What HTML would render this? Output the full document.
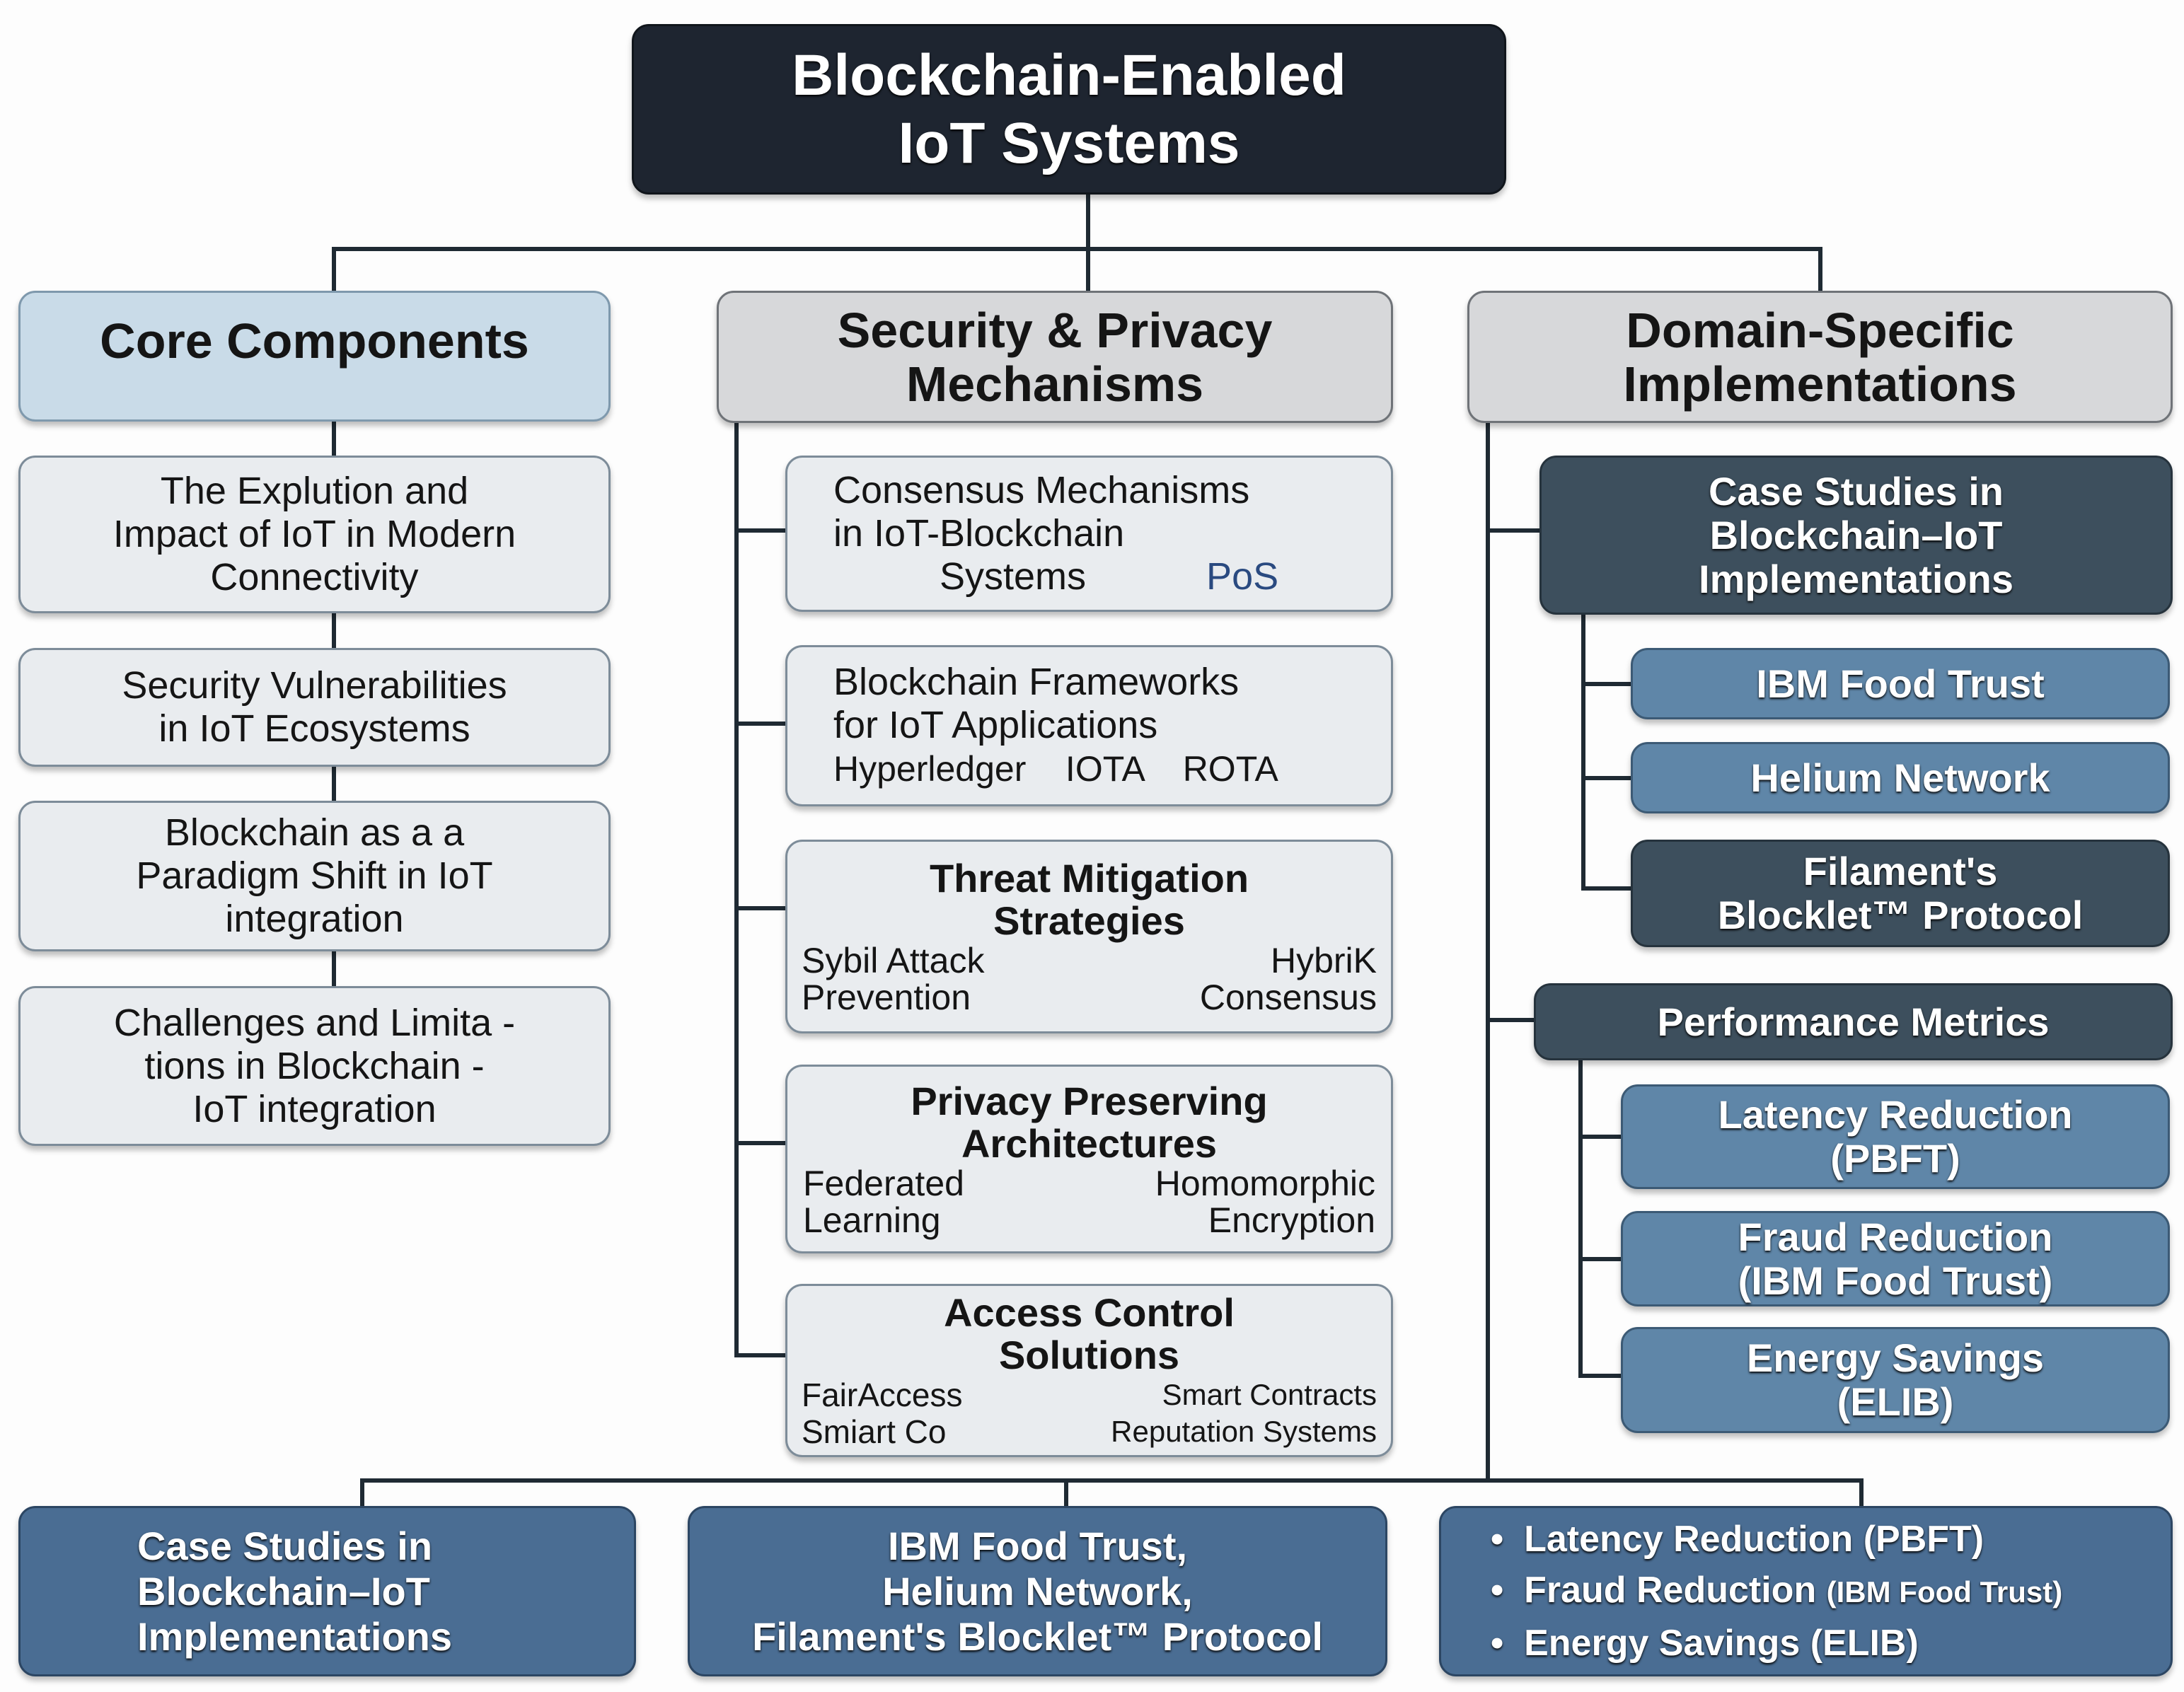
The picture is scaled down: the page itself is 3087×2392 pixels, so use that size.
<!DOCTYPE html>
<html><head><meta charset="utf-8">
<style>
body{margin:0;width:3087px;height:2392px;background:#fdfdfd;position:relative;overflow:hidden;font-family:"Liberation Sans",sans-serif;}
.b{position:absolute;box-sizing:border-box;border-radius:24px;border:3px solid #6f7f8c;display:flex;flex-direction:column;justify-content:center;text-align:center;box-shadow:0 6px 8px rgba(0,0,0,0.25);color:#151515;}
.l{position:absolute;background:#1f2a33;}
.lt{background:#e9ecef;border-color:#7d8c99;font-size:54px;line-height:61px;}
.h{font-size:70px;line-height:76px;font-weight:bold;}
.g{background:#d7d8da;border-color:#6f7378;}
.dk{background:#3d4f5d;border-color:#26333d;color:#fff;font-weight:bold;font-size:56px;line-height:62px;text-shadow:0 2px 3px #000;}
.md{background:#5f86a8;border-color:#3c5a75;color:#fff;font-weight:bold;font-size:56px;line-height:62px;text-shadow:0 2px 3px #000;}
.bt{background:#4a6d93;border-color:#2c4663;color:#fff;font-weight:bold;font-size:56px;line-height:64px;text-shadow:0 2px 3px #000;}
.row{display:flex;justify-content:space-between;font-size:48px;line-height:52px;padding:0 24px;}
.t{font-weight:bold;font-size:56px;line-height:60px;}
</style></head><body>
<div class="l" style="left:1535px;top:275px;width:6px;height:80px"></div>
<div class="l" style="left:469px;top:349px;width:2107px;height:6px"></div>
<div class="l" style="left:469px;top:349px;width:6px;height:64px"></div>
<div class="l" style="left:2570px;top:349px;width:6px;height:64px"></div>
<div class="l" style="left:1535px;top:349px;width:6px;height:64px"></div>
<div class="l" style="left:469px;top:596px;width:6px;height:1000px"></div>
<div class="l" style="left:1038px;top:598px;width:6px;height:1321px"></div>
<div class="l" style="left:1038px;top:747px;width:72px;height:6px"></div>
<div class="l" style="left:1038px;top:1020px;width:72px;height:6px"></div>
<div class="l" style="left:1038px;top:1281px;width:72px;height:6px"></div>
<div class="l" style="left:1038px;top:1613px;width:72px;height:6px"></div>
<div class="l" style="left:1038px;top:1913px;width:72px;height:6px"></div>
<div class="l" style="left:2100px;top:598px;width:6px;height:1498px"></div>
<div class="l" style="left:2100px;top:747px;width:76px;height:6px"></div>
<div class="l" style="left:2100px;top:1439px;width:70px;height:6px"></div>
<div class="l" style="left:2235px;top:869px;width:6px;height:390px"></div>
<div class="l" style="left:2235px;top:964px;width:70px;height:6px"></div>
<div class="l" style="left:2235px;top:1097px;width:70px;height:6px"></div>
<div class="l" style="left:2235px;top:1253px;width:70px;height:6px"></div>
<div class="l" style="left:2231px;top:1499px;width:6px;height:449px"></div>
<div class="l" style="left:2231px;top:1604px;width:60px;height:6px"></div>
<div class="l" style="left:2231px;top:1777px;width:60px;height:6px"></div>
<div class="l" style="left:2231px;top:1942px;width:60px;height:6px"></div>
<div class="l" style="left:509px;top:2090px;width:2125px;height:6px"></div>
<div class="l" style="left:509px;top:2090px;width:6px;height:42px"></div>
<div class="l" style="left:1504px;top:2090px;width:6px;height:42px"></div>
<div class="l" style="left:2628px;top:2090px;width:6px;height:42px"></div>

<div class="b" style="left:893px;top:34px;width:1236px;height:241px;background:#1e2530;border-color:#10151b;color:#fff;font-weight:bold;font-size:82px;line-height:96px;text-shadow:0 2px 3px #000"><div>Blockchain-Enabled<br>IoT Systems</div></div>

<div class="b h" style="left:26px;top:411px;width:837px;height:185px;background:#c9dbe8;border-color:#7f99ad;justify-content:flex-start;padding-top:30px"><div>Core Components</div></div>
<div class="b h g" style="left:1013px;top:411px;width:956px;height:187px"><div>Security &amp; Privacy<br>Mechanisms</div></div>
<div class="b h g" style="left:2074px;top:411px;width:997px;height:187px"><div>Domain-Specific<br>Implementations</div></div>

<div class="b lt" style="left:26px;top:644px;width:837px;height:223px"><div>The Explution and<br>Impact of IoT in Modern<br>Connectivity</div></div>
<div class="b lt" style="left:26px;top:916px;width:837px;height:168px"><div>Security Vulnerabilities<br>in IoT Ecosystems</div></div>
<div class="b lt" style="left:26px;top:1132px;width:837px;height:213px"><div>Blockchain as a a<br>Paradigm Shift in IoT<br>integration</div></div>
<div class="b lt" style="left:26px;top:1394px;width:837px;height:226px"><div>Challenges and Limita -<br>tions in Blockchain -<br>IoT integration</div></div>

<div class="b lt" style="left:1110px;top:644px;width:859px;height:221px;text-align:left;padding-left:65px"><div>Consensus Mechanisms<br>in IoT-Blockchain<br><span style="padding-left:150px">Systems</span><span style="padding-left:170px;color:#2a4a80">PoS</span></div></div>
<div class="b lt" style="left:1110px;top:912px;width:859px;height:228px;text-align:left;padding-left:65px"><div>Blockchain Frameworks<br>for IoT Applications<br><span style="font-size:50px">Hyperledger &nbsp;&nbsp;&nbsp;IOTA &nbsp;&nbsp;&nbsp;ROTA</span></div></div>
<div class="b lt" style="left:1110px;top:1187px;width:859px;height:274px"><div class="t">Threat Mitigation<br>Strategies</div><div class="row" style="font-size:50px;padding:0 20px"><span style="text-align:left">Sybil Attack<br>Prevention</span><span style="text-align:right">HybriK<br>Consensus</span></div></div>
<div class="b lt" style="left:1110px;top:1505px;width:859px;height:267px"><div class="t">Privacy Preserving<br>Architectures</div><div class="row" style="font-size:50px;padding:0 22px"><span style="text-align:left">Federated<br>Learning</span><span style="text-align:right">Homomorphic<br>Encryption</span></div></div>
<div class="b lt" style="left:1110px;top:1815px;width:859px;height:245px"><div class="t">Access Control<br>Solutions</div><div class="row" style="font-size:46px;padding:0 20px"><span style="text-align:left">FairAccess<br>Smiart Co</span><span style="text-align:right;font-size:42px">Smart Contracts<br>Reputation Systems</span></div></div>

<div class="b dk" style="left:2176px;top:644px;width:895px;height:225px"><div>Case Studies in<br>Blockchain–IoT<br>Implementations</div></div>
<div class="b md" style="left:2305px;top:916px;width:762px;height:101px"><div>IBM Food Trust</div></div>
<div class="b md" style="left:2305px;top:1049px;width:762px;height:101px"><div>Helium Network</div></div>
<div class="b dk" style="left:2305px;top:1187px;width:762px;height:152px"><div>Filament's<br>Blocklet™ Protocol</div></div>
<div class="b dk" style="left:2168px;top:1390px;width:903px;height:109px"><div>Performance Metrics</div></div>
<div class="b md" style="left:2291px;top:1533px;width:776px;height:148px"><div>Latency Reduction<br>(PBFT)</div></div>
<div class="b md" style="left:2291px;top:1712px;width:776px;height:135px"><div>Fraud Reduction<br>(IBM Food Trust)</div></div>
<div class="b md" style="left:2291px;top:1876px;width:776px;height:150px"><div>Energy Savings<br>(ELIB)</div></div>

<div class="b bt" style="left:26px;top:2129px;width:873px;height:241px;text-align:left;padding-left:165px"><div>Case Studies in<br>Blockchain–IoT<br>Implementations</div></div>
<div class="b bt" style="left:972px;top:2129px;width:989px;height:241px"><div>IBM Food Trust,<br>Helium Network,<br>Filament's Blocklet™ Protocol</div></div>
<div class="b bt" style="left:2034px;top:2129px;width:1037px;height:241px;text-align:left;padding-left:70px;font-size:52px;line-height:72px"><div style="white-space:nowrap">• &nbsp;Latency Reduction (PBFT)<br>• &nbsp;Fraud Reduction <span style="font-size:42px">(IBM Food Trust)</span><br>• &nbsp;Energy Savings (ELIB)</div></div>
</body></html>
